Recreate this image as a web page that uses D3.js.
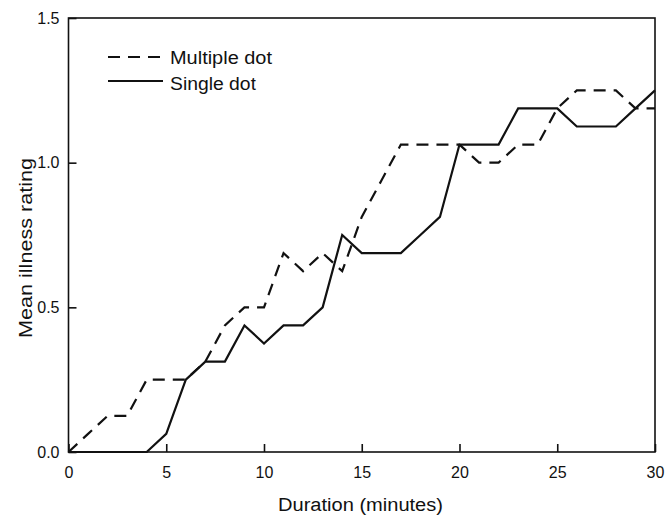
<!DOCTYPE html>
<html>
<head>
<meta charset="utf-8">
<script src="https://cdn.jsdelivr.net/npm/d3@7"></script>
<style>
  html, body { margin: 0; padding: 0; background: #fff; }
  svg { display: block; }
  text { font-family: "Liberation Sans", Arial, sans-serif; fill: #111; }
</style>
</head>
<body>
<svg id="chart" width="665" height="517"></svg>
<script>
const minutes = d3.range(0, 31);
const multipleDot = [0, 0.0625, 0.125, 0.125, 0.25, 0.25, 0.25, 0.3125, 0.4375, 0.5, 0.5,
  0.6875, 0.625, 0.6875, 0.625, 0.8125, 0.9375, 1.0625, 1.0625, 1.0625, 1.0625,
  1.0, 1.0, 1.0625, 1.0625, 1.1875, 1.25, 1.25, 1.25, 1.1875, 1.1875];
const singleDot = [0, 0, 0, 0, 0, 0.0625, 0.25, 0.3125, 0.3125, 0.4375, 0.375,
  0.4375, 0.4375, 0.5, 0.75, 0.6875, 0.6875, 0.6875, 0.75, 0.8125, 1.0625,
  1.0625, 1.0625, 1.1875, 1.1875, 1.1875, 1.125, 1.125, 1.125, 1.1875, 1.25];
const xTicks = [0, 5, 10, 15, 20, 25, 30];
const yTicks = [0, 0.5, 1.0, 1.5];
const seriesNames = ["Multiple dot", "Single dot"];

const svg = d3.select("#chart");
const mLeft = 68.5, mRight = 655, mTop = 18, mBottom = 452;
const x = d3.scaleLinear().domain([0, 30]).range([mLeft, mRight]);
const y = d3.scaleLinear().domain([0, 1.5]).range([mBottom, mTop]);

// frame
svg.append("rect").attr("x", mLeft).attr("y", mTop)
  .attr("width", mRight - mLeft).attr("height", mBottom - mTop)
  .attr("fill", "none").attr("stroke", "#111").attr("stroke-width", 1.6);

// axes with inward ticks
const xAxis = svg.append("g").attr("transform", `translate(0,${mBottom})`)
  .call(d3.axisBottom(x).tickValues(xTicks).tickSizeInner(-8).tickSizeOuter(0).tickPadding(15)
    .tickFormat(d3.format("d")));
const yAxis = svg.append("g").attr("transform", `translate(${mLeft},0)`)
  .call(d3.axisLeft(y).tickValues(yTicks).tickSizeInner(-8).tickSizeOuter(0).tickPadding(9)
    .tickFormat(d3.format(".1f")));
[xAxis, yAxis].forEach(g => {
  g.select(".domain").remove();
  g.selectAll(".tick line").attr("stroke", "#111").attr("stroke-width", 1.6);
  g.selectAll(".tick text").attr("font-size", 16).attr("fill", "#111")
    .style("font-family", "'Liberation Sans', Arial, sans-serif");
});

// lines
const line = d3.line().x((d, i) => x(minutes[i])).y(d => y(d));
svg.append("path").datum(multipleDot).attr("d", line)
  .attr("fill", "none").attr("stroke", "#111").attr("stroke-width", 2.2)
  .attr("stroke-dasharray", "12,8");
svg.append("path").datum(singleDot).attr("d", line)
  .attr("fill", "none").attr("stroke", "#111").attr("stroke-width", 2.2);

// legend
const legend = svg.append("g");
[["12,8", 57, 160, 64, 102], [null, 81, 163, 89.5, 86]].forEach(([dash, yy, x2, ty, tl], i) => {
  const l = legend.append("line").attr("x1", 108).attr("x2", x2).attr("y1", yy).attr("y2", yy)
    .attr("stroke", "#111").attr("stroke-width", 2.2);
  if (dash) l.attr("stroke-dasharray", dash);
  legend.append("text").attr("x", 170).attr("y", ty).attr("font-size", 18)
    .attr("textLength", tl).attr("lengthAdjust", "spacingAndGlyphs")
    .text(seriesNames[i]);
});

// axis titles
svg.append("text").attr("x", 278).attr("y", 511)
  .attr("font-size", 18).attr("textLength", 165).attr("lengthAdjust", "spacingAndGlyphs")
  .text("Duration (minutes)");
svg.append("text").attr("transform", `translate(32,338) rotate(-90)`)
  .attr("font-size", 19).attr("textLength", 180).attr("lengthAdjust", "spacingAndGlyphs")
  .text("Mean illness rating");
</script>
</body>
</html>
